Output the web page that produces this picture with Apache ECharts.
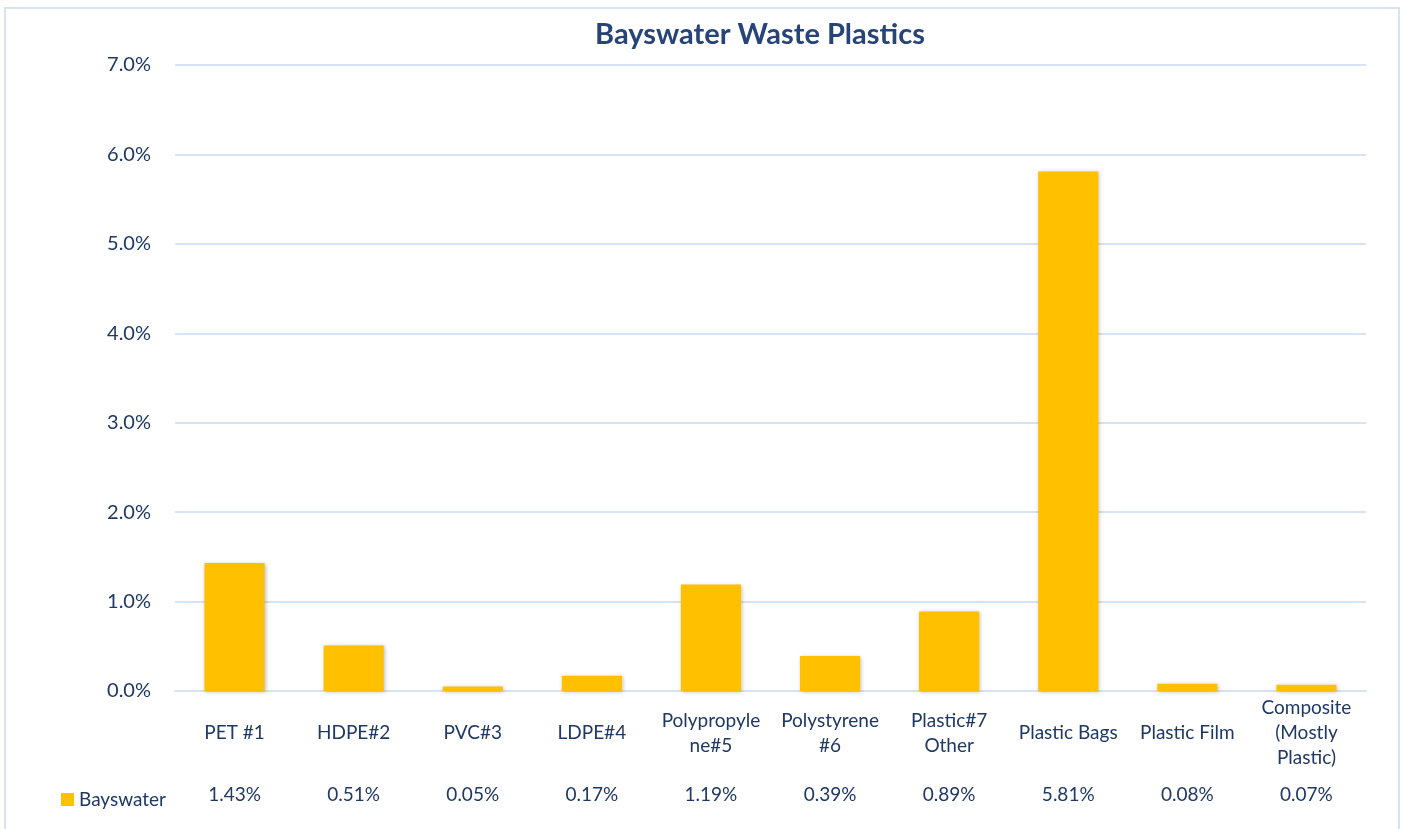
<!DOCTYPE html>
<html>
<head>
<meta charset="utf-8">
<script src="https://cdn.jsdelivr.net/npm/echarts@6/dist/echarts.min.js"></script>
<style>
html,body{margin:0;padding:0;background:#fff;}
#wrap{position:absolute;left:4px;top:7px;width:1396px;height:822px;border:2px solid #D6E3F1;border-bottom:none;box-sizing:border-box;}
#chart{position:absolute;left:0;top:0;width:1404px;height:829px;}
</style>
</head>
<body>
<div id="wrap"></div>
<div id="chart"></div>
<script>
const title = 'Bayswater Waste Plastics';
const seriesName = 'Bayswater';
const categories = ['PET #1','HDPE#2','PVC#3','LDPE#4','Polypropyle\nne#5','Polystyrene\n#6','Plastic#7\nOther','Plastic Bags','Plastic Film','Composite\n(Mostly\nPlastic)'];
const values = [1.43, 0.51, 0.05, 0.17, 1.19, 0.39, 0.89, 5.81, 0.08, 0.07];
const yTicks = {min: 0, max: 7, interval: 1};

const navy = '#1F3864';
const font = 'Lato, "Open Sans", sans-serif';
const chart = echarts.init(document.getElementById('chart'), null, {renderer: 'canvas'});
chart.setOption({
  animation: false,
  textStyle: {fontFamily: font},
  title: {
    text: title, left: 755, top: 15, textAlign: 'center',
    textStyle: {color: '#264478', fontSize: 29, fontWeight: 'bold', fontFamily: font}
  },
  legend: {
    data: [seriesName], left: 56, top: 785, icon: 'rect', itemWidth: 13, itemHeight: 13, itemGap: 5,
    textStyle: {color: navy, fontSize: 19, fontFamily: font}
  },
  grid: {left: 175, right: 38, top: 65, bottom: 138},
  xAxis: [{
    type: 'category', data: categories, position: 'bottom',
    axisLine: {lineStyle: {color: '#D6E3F1', width: 2}},
    axisTick: {show: false},
    axisLabel: {color: navy, fontSize: 19, lineHeight: 25, margin: 42, verticalAlign: 'middle', interval: 0, fontFamily: font}
  }, {
    type: 'category', data: values.map(v => v.toFixed(2) + '%'), position: 'bottom', offset: 104,
    axisLine: {show: false}, axisTick: {show: false},
    axisLabel: {color: navy, fontSize: 19, margin: 0, verticalAlign: 'middle', interval: 0, fontFamily: font}
  }],
  yAxis: {
    type: 'value', min: yTicks.min, max: yTicks.max, interval: yTicks.interval,
    axisLabel: {color: navy, fontSize: 20, margin: 24, formatter: v => v.toFixed(1) + '%', fontFamily: font},
    axisLine: {show: false}, axisTick: {show: false},
    splitLine: {lineStyle: {color: '#D6E3F1', width: 2}}
  },
  series: [{
    name: seriesName, type: 'bar', data: values, barWidth: '50.5%',
    itemStyle: {color: '#FFC000', shadowColor: 'rgba(0,0,0,0.25)', shadowBlur: 4, shadowOffsetX: 1, shadowOffsetY: 1}
  }]
});
</script>
</body>
</html>
